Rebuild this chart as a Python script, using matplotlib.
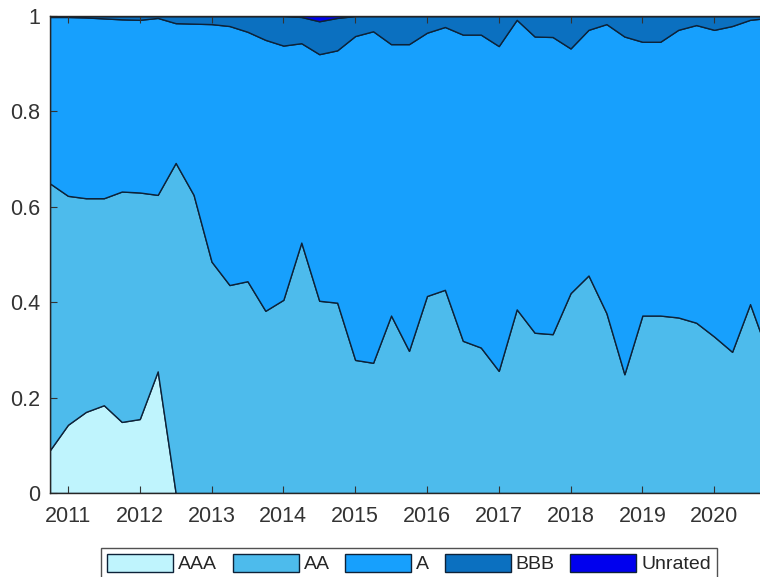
import numpy as np
import matplotlib
matplotlib.use("Agg")
import matplotlib.pyplot as plt

# quarter-end dates as decimal years, Q3 2010 .. Q3 2020
quarters = np.arange(2010.75, 2020.76, 0.25)

aaa = [0.090, 0.143, 0.170, 0.184, 0.149, 0.155, 0.255, 0, 0, 0,
       0, 0, 0, 0, 0, 0, 0, 0, 0, 0,
       0, 0, 0, 0, 0, 0, 0, 0, 0, 0,
       0, 0, 0, 0, 0, 0, 0, 0, 0, 0, 0]
aa = [0.559, 0.480, 0.448, 0.434, 0.483, 0.475, 0.370, 0.692, 0.625, 0.485,
      0.436, 0.444, 0.382, 0.405, 0.525, 0.403, 0.399, 0.279, 0.273, 0.372,
      0.298, 0.413, 0.426, 0.319, 0.305, 0.256, 0.385, 0.336, 0.333, 0.419,
      0.456, 0.377, 0.249, 0.372, 0.372, 0.368, 0.357, 0.328, 0.296, 0.396, 0.292]
a = [0.349, 0.375, 0.379, 0.377, 0.361, 0.362, 0.371, 0.293, 0.359, 0.498,
     0.543, 0.523, 0.568, 0.533, 0.418, 0.517, 0.529, 0.679, 0.695, 0.569,
     0.643, 0.552, 0.551, 0.642, 0.656, 0.681, 0.607, 0.621, 0.623, 0.513,
     0.515, 0.606, 0.708, 0.574, 0.574, 0.603, 0.624, 0.643, 0.683, 0.596, 0.704]
bbb = [0.002, 0.002, 0.003, 0.005, 0.007, 0.008, 0.004, 0.015, 0.016, 0.017,
       0.021, 0.033, 0.050, 0.062, 0.055, 0.069, 0.068, 0.042, 0.032, 0.059,
       0.059, 0.035, 0.023, 0.039, 0.039, 0.063, 0.008, 0.043, 0.044, 0.068,
       0.029, 0.017, 0.043, 0.054, 0.054, 0.029, 0.019, 0.029, 0.021, 0.008, 0.004]
unrated = [0, 0, 0, 0, 0, 0, 0, 0, 0, 0,
           0, 0, 0, 0, 0.002, 0.011, 0.004, 0, 0, 0,
           0, 0, 0, 0, 0, 0, 0, 0, 0, 0,
           0, 0, 0, 0, 0, 0, 0, 0, 0, 0, 0]

labels = ["AAA", "AA", "A", "BBB", "Unrated"]
colors = ["#bff4fd", "#4dbbec", "#17a0fd", "#0b70c0", "#0000ee"]
years = list(range(2011, 2021))

plt.rcParams['font.family'] = ['Liberation Sans', 'DejaVu Sans']

fig = plt.figure(figsize=(7.6, 5.77), dpi=100)
# axes runs past the right edge of the picture (cropped like the original)
ax = fig.add_axes([50 / 760, 84 / 577, 718 / 760, 477 / 577])

polys = ax.stackplot(quarters, aaa, aa, a, bbb, unrated, labels=labels,
                     colors=colors, edgecolor="#0d2238", linewidth=1.0)

ax.set_xlim(2010.75, 2020.75)
ax.set_ylim(0, 1)
ax.set_xticks(years)
ax.set_xticklabels([str(y) for y in years])
ax.set_yticks([0, 0.2, 0.4, 0.6, 0.8, 1])
ax.set_yticklabels(["0", "0.2", "0.4", "0.6", "0.8", "1"])

ax.tick_params(direction="in", length=5, width=0.8, colors="#333333",
               labelsize=15.5, top=True, right=True)
ax.tick_params(axis="x", pad=9)
ax.tick_params(axis="y", pad=7)
for side in ax.spines.values():
    side.set_color("#262626")
    side.set_linewidth(1.0)

leg = fig.legend(handles=polys, labels=labels, ncol=5, loc="upper center",
                 bbox_to_anchor=(409 / 760, 29 / 577), fontsize=14,
                 frameon=True, fancybox=False, edgecolor="#262626",
                 handlelength=3.4, handleheight=1.03, handletextpad=0.25,
                 columnspacing=0.8, borderpad=0.3, borderaxespad=0)
leg.get_frame().set_linewidth(1.0)
for t in leg.get_texts():
    t.set_color("#262626")

fig.savefig("out.png", dpi=100)
